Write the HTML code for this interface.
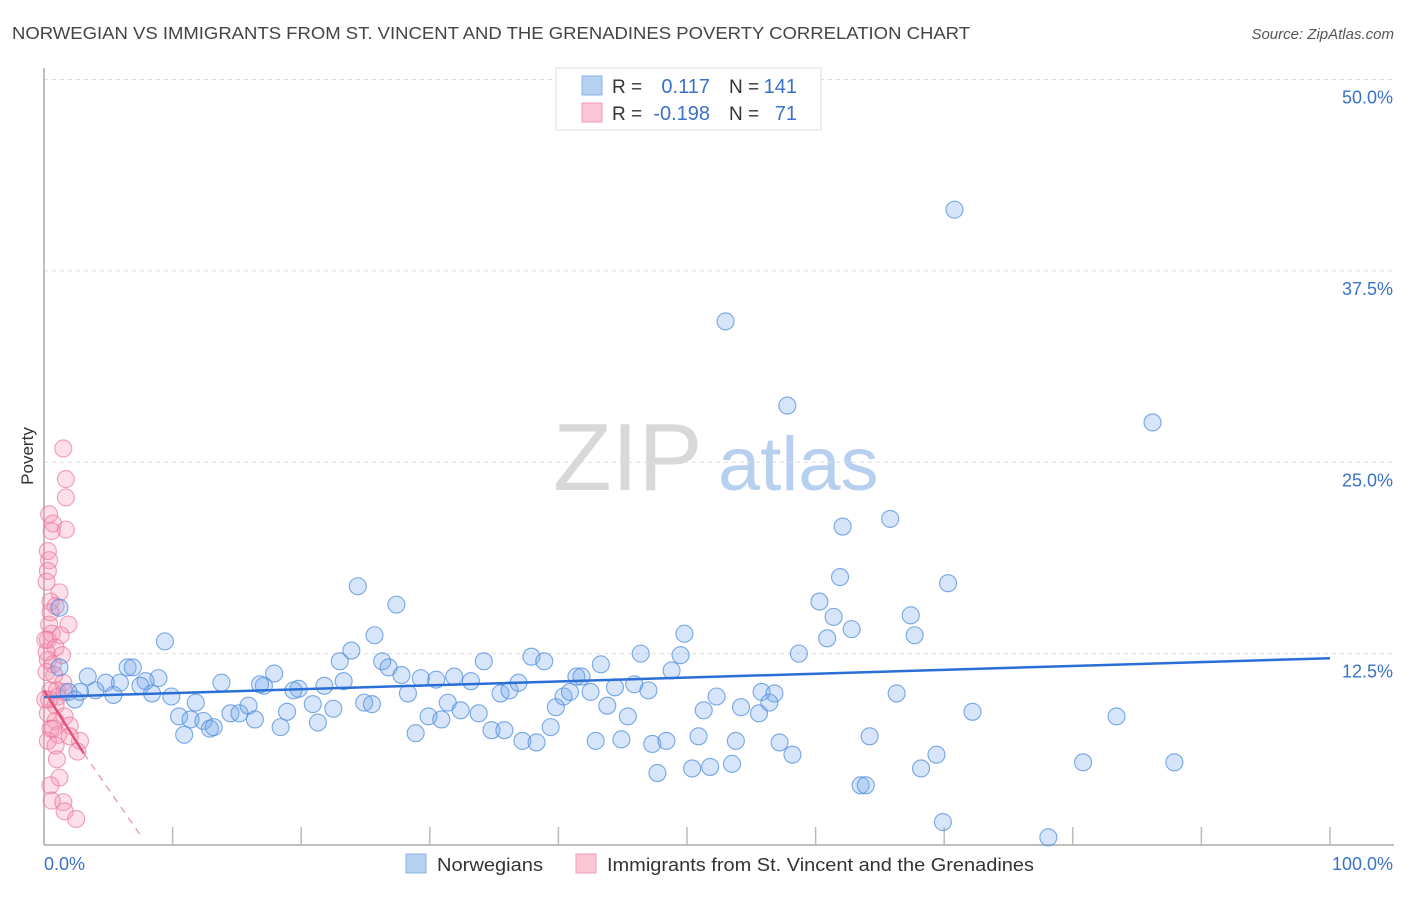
<!DOCTYPE html>
<html><head><meta charset="utf-8">
<style>
body{margin:0;background:#fff;font-family:"Liberation Sans",sans-serif;}
svg text{font-family:"Liberation Sans",sans-serif;}
</style></head>
<body>
<svg id="chart" width="1406" height="892" viewBox="0 0 1406 892">
<text x="12" y="39" font-size="17.5" fill="#444" textLength="958" lengthAdjust="spacingAndGlyphs">NORWEGIAN VS IMMIGRANTS FROM ST. VINCENT AND THE GRENADINES POVERTY CORRELATION CHART</text>
<text x="1394" y="39" font-size="15" fill="#555" font-style="italic" text-anchor="end">Source: ZipAtlas.com</text>
<g>
<text x="553" y="490" font-size="96" fill="#d8d8d8" font-family="Liberation Serif,serif">ZIP</text>
<text x="718" y="490" font-size="76" fill="#b8d0ef">atlas</text>
</g>
<text transform="translate(33,456) rotate(-90)" font-size="17" fill="#333" text-anchor="middle">Poverty</text>
<g id="grid"></g>
<g id="axes"></g>
<g id="pink"></g>
<g id="blue"></g>
<g id="trends"></g>
<g>
<rect x="556" y="68" width="265" height="62" fill="#fff" stroke="#ddd"/>
<rect x="582" y="76" width="20" height="19" fill="#b7d1f3" stroke="#8ab2e6"/>
<rect x="582" y="103" width="20" height="19" fill="#fbc6d6" stroke="#f09bb5"/>
<text x="612" y="93" font-size="19" fill="#333">R =</text>
<text x="710" y="93" font-size="20" fill="#3a72c8" text-anchor="end">0.117</text>
<text x="729" y="93" font-size="19" fill="#333">N =</text>
<text x="797" y="93" font-size="20" fill="#3a72c8" text-anchor="end">141</text>
<text x="612" y="120" font-size="19" fill="#333">R =</text>
<text x="710" y="120" font-size="20" fill="#3a72c8" text-anchor="end">-0.198</text>
<text x="729" y="120" font-size="19" fill="#333">N =</text>
<text x="797" y="120" font-size="20" fill="#3a72c8" text-anchor="end">71</text>
</g>
<g>
<rect x="406" y="854" width="20" height="19" fill="#b7d1f3" stroke="#8ab2e6"/>
<text x="437" y="871" font-size="18" fill="#333" textLength="106" lengthAdjust="spacingAndGlyphs">Norwegians</text>
<rect x="576" y="854" width="20" height="19" fill="#fbc6d6" stroke="#f09bb5"/>
<text x="607" y="871" font-size="18" fill="#333" textLength="427" lengthAdjust="spacingAndGlyphs">Immigrants from St. Vincent and the Grenadines</text>
</g>
</svg>
<script>
const yTicks=[12.5,25,37.5,50];
const yTickLabels=["12.5%","25.0%","37.5%","50.0%"];
const xTickLabels=["0.0%","100.0%"];
const blueX=[70.8,53.0,57.8,86.2,65.8,62.1,61.9,70.3,60.3,67.4,61.4,62.8,60.9,67.7,58.7,49.8,46.4,49.5,48.8,43.3,41.4,41.8,37.9,38.9,34.2,31.9,33.2,30.5,29.3,27.4,25.7,24.4,23.9,23.0,26.3,26.8,27.8,23.3,21.8,19.8,19.4,17.1,16.8,17.9,13.8,9.4,6.5,6.9,8.9,7.9,7.5,5.9,4.8,3.4,4.0,5.4,2.8,1.9,2.4,8.4,9.9,11.8,10.5,11.4,10.9,12.4,12.9,13.2,14.5,15.2,15.9,16.4,18.4,18.9,20.9,21.3,22.5,24.9,25.5,28.3,28.9,29.9,30.9,31.4,32.4,33.8,34.8,35.8,35.5,36.2,36.9,37.2,38.3,39.4,39.8,40.4,40.9,42.5,43.8,44.4,45.9,45.4,47.0,42.9,44.9,47.3,48.4,47.7,50.4,51.8,53.5,50.9,51.3,52.3,53.8,54.2,55.6,55.8,56.8,56.4,57.2,58.2,64.2,66.3,63.5,63.9,68.2,69.4,69.9,72.2,78.1,80.8,83.4,87.9,1.2,1.2];
const blueY=[41.5,34.2,28.7,27.6,21.3,20.8,17.5,17.1,15.9,15.0,14.9,14.1,13.5,13.7,12.5,13.8,12.5,12.4,11.4,11.8,11.0,11.0,12.3,12.0,12.0,11.0,10.7,10.8,10.9,15.7,13.7,16.9,12.7,12.0,12.0,11.6,11.1,10.7,10.4,10.2,10.1,10.4,10.5,11.2,10.6,13.3,11.6,11.6,10.9,10.7,10.4,10.6,10.6,11.0,10.1,9.8,10.0,10.0,9.5,9.9,9.7,9.3,8.4,8.2,7.2,8.1,7.6,7.7,8.6,8.6,9.1,8.2,7.7,8.7,9.2,8.0,8.9,9.3,9.2,9.9,7.3,8.4,8.2,9.3,8.8,8.6,7.5,7.5,9.9,10.1,10.6,6.8,6.7,7.7,9.0,9.7,10.0,10.0,9.1,10.3,10.5,8.4,10.1,6.8,6.9,6.6,6.8,4.7,5.0,5.1,5.3,7.1,8.8,9.7,6.8,9.0,8.6,10.0,9.9,9.3,6.7,5.9,7.1,9.9,3.9,3.9,5.0,5.9,1.5,8.7,0.5,5.4,8.4,5.4,15.5,11.6];
const pinkX=[1.5,1.7,1.7,0.4,0.7,1.7,0.6,0.3,0.4,0.3,0.2,1.2,0.5,0.9,1.9,0.4,0.6,1.3,0.3,0.9,1.4,0.3,0.7,0.2,0.8,1.5,0.5,1.1,0.4,0.9,0.3,1.6,0.9,2.0,0.5,1.1,0.3,2.8,0.9,2.6,1.0,1.2,0.5,0.6,1.5,1.6,2.5,0.2,0.1,1.0,0.5,0.1,0.7,1.6,2.0];
const pinkY=[25.9,23.9,22.7,21.6,21.0,20.6,20.5,19.2,18.6,17.9,17.2,16.5,15.9,15.6,14.4,14.4,13.8,13.7,13.4,12.9,12.4,12.1,11.8,11.3,11.1,10.6,10.1,9.7,9.5,9.1,8.6,8.4,8.1,7.8,7.6,7.2,6.8,6.8,6.5,6.1,5.6,4.4,3.9,2.9,2.8,2.2,1.7,12.6,13.4,10.1,15.2,9.5,7.6,10.0,7.1];
const blueTrend=[9.67,12.2];
const pinkTrend=[10.1,-1.33];
const NS="http://www.w3.org/2000/svg";
const X0=44,X1=1330,Y0=845,YPER=15.31;
function sx(v){return X0+(X1-X0)*v/100;}
function sy(v){return Y0-v*YPER;}
function mk(tag,attrs,parent){const e=document.createElementNS(NS,tag);for(const k in attrs)e.setAttribute(k,attrs[k]);parent.appendChild(e);return e;}
const grid=document.getElementById('grid');
yTicks.forEach((t,i)=>{
  const l=mk('line',{x1:44,x2:1394,y1:sy(t),y2:sy(t),stroke:'#ddd','stroke-dasharray':'4,4'},grid);
  
  
  const tx=mk('text',{x:1393,y:sy(t)+24,'font-size':18,fill:'#3a72c8','text-anchor':'end'},grid);
  tx.textContent=yTickLabels[i];
  
  
});
const axes=document.getElementById('axes');
const ya=mk('line',{x1:44,x2:44,y1:68,y2:Y0,stroke:'#aaa','stroke-width':1.5},axes);


const xa=mk('line',{x1:44,x2:1394,y1:Y0,y2:Y0,stroke:'#aaa','stroke-width':1.5},axes);


for(let i=1;i<=10;i++){
  const tk=mk('line',{x1:sx(i*10),x2:sx(i*10),y1:Y0,y2:Y0-18,stroke:'#bbb','stroke-width':1.5},axes);
  
  
}
const xl0=mk('text',{x:44,y:870,'font-size':18,fill:'#3a72c8'},axes);xl0.textContent=xTickLabels[0];


const xl1=mk('text',{x:1393,y:870,'font-size':18,fill:'#3a72c8','text-anchor':'end'},axes);xl1.textContent=xTickLabels[1];


const pg=document.getElementById('pink');
pinkX.forEach((v,i)=>{
  const c=mk('circle',{cx:sx(v),cy:sy(pinkY[i]),r:8.5,fill:'rgba(245,150,180,0.3)',stroke:'rgba(235,120,155,0.7)','stroke-width':1.1},pg);
  
  
});
const bg=document.getElementById('blue');
blueX.forEach((v,i)=>{
  const c=mk('circle',{cx:sx(v),cy:sy(blueY[i]),r:8.5,fill:'rgba(120,170,235,0.3)',stroke:'rgba(80,140,220,0.75)','stroke-width':1.1},bg);
  
  
});
const tg=document.getElementById('trends');
const bt=mk('line',{x1:sx(0),y1:sy(blueTrend[0]),x2:sx(100),y2:sy(blueTrend[1]),stroke:'#2a6fd6','stroke-width':2.5},tg);


const pEnd=3.1, pZero=-pinkTrend[0]/pinkTrend[1];
const ps=mk('line',{x1:sx(0),y1:sy(pinkTrend[0]),x2:sx(pEnd),y2:sy(pinkTrend[0]+pinkTrend[1]*pEnd),stroke:'#e0507a','stroke-width':2.5},tg);


const pd=mk('line',{x1:sx(pEnd),y1:sy(pinkTrend[0]+pinkTrend[1]*pEnd),x2:sx(pZero),y2:sy(0)-8,stroke:'#e88aa6','stroke-width':1.2,'stroke-dasharray':'7,6'},tg);


</script>
</body></html>
